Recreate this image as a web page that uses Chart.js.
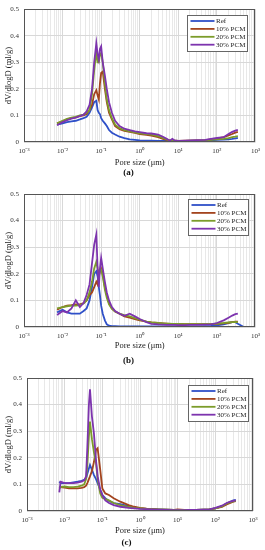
<!DOCTYPE html>
<html>
<head>
<meta charset="utf-8">
<script src="https://cdn.jsdelivr.net/npm/chart.js@4.4.1/dist/chart.umd.min.js"></script>
<style>
    body { margin: 0; background: #fff; }
    #wrap { position: relative; width: 265px; height: 550px; }
    canvas { position: absolute; left: 0; }
</style>
</head>
<body>
<div id="wrap">
    <canvas id="chart_a" width="265" height="180" style="top:0px"></canvas>
    <canvas id="chart_b" width="265" height="185" style="top:182px"></canvas>
    <canvas id="chart_c" width="265" height="183" style="top:367px"></canvas>
</div>
<script>
// legend names and colours
var seriesNames = ['Ref', '10% PCM', '20% PCM', '30% PCM'];
var seriesColors = ['#2f50c8', '#a3441e', '#7c9c2a', '#7d34ae'];

// x axis decades and y ticks
var xDecades = [0.001, 0.01, 0.1, 1, 10, 100, 1000];
var yTicks = [0, 0.1, 0.2, 0.3, 0.4, 0.5];

// (a)
var poreA = [0.0072, 0.01, 0.013, 0.017, 0.022, 0.028, 0.035, 0.042, 0.05, 0.058,
    0.066, 0.075, 0.081, 0.087, 0.093, 0.1, 0.11, 0.125, 0.14, 0.16,
    0.19, 0.23, 0.3, 0.4, 0.55, 0.75, 1, 1.5, 2, 3,
    4, 5, 6, 7, 8, 10, 15, 20, 30, 50,
    70, 100, 150, 200, 250, 300, 350];
var refA = [0.065, 0.07, 0.075, 0.078, 0.08, 0.085, 0.09, 0.095, 0.11, 0.13,
    0.15, 0.155, 0.12, 0.11, 0.105, 0.09, 0.08, 0.07, 0.06, 0.045,
    0.035, 0.028, 0.02, 0.015, 0.01, 0.008, 0.006, 0.005, 0.005, 0.004,
    0.004, 0.004, 0.004, 0.004, 0.004, 0.004, 0.004, 0.004, 0.004, 0.005,
    0.006, 0.008, 0.009, 0.01, 0.012, 0.014, 0.015];
var pcm10A = [0.07, 0.078, 0.085, 0.09, 0.093, 0.097, 0.1, 0.105, 0.12, 0.14,
    0.18, 0.195, 0.175, 0.16, 0.22, 0.26, 0.265, 0.2, 0.15, 0.11,
    0.085, 0.06, 0.048, 0.042, 0.038, 0.034, 0.03, 0.027, 0.024, 0.018,
    0.012, 0.008, 0.005, 0.005, 0.005, 0.004, 0.005, 0.005, 0.006, 0.007,
    0.01, 0.013, 0.018, 0.025, 0.03, 0.035, 0.038];
var pcm20A = [0.07, 0.08, 0.087, 0.092, 0.095, 0.1, 0.103, 0.11, 0.12, 0.18,
    0.27, 0.34, 0.3, 0.3, 0.33, 0.335, 0.3, 0.22, 0.16, 0.12,
    0.09, 0.065, 0.052, 0.045, 0.04, 0.036, 0.033, 0.03, 0.028, 0.022,
    0.015, 0.01, 0.006, 0.005, 0.005, 0.004, 0.004, 0.005, 0.005, 0.006,
    0.008, 0.01, 0.012, 0.015, 0.018, 0.02, 0.022];
var pcm30A = [0.063, 0.075, 0.082, 0.088, 0.092, 0.098, 0.103, 0.115, 0.14, 0.2,
    0.3, 0.372, 0.33, 0.31, 0.35, 0.36, 0.3, 0.25, 0.2, 0.15,
    0.11, 0.08, 0.06, 0.05, 0.045, 0.04, 0.037, 0.033, 0.032, 0.028,
    0.02, 0.012, 0.005, 0.012, 0.006, 0.004, 0.005, 0.006, 0.007, 0.008,
    0.012, 0.015, 0.018, 0.03, 0.038, 0.043, 0.046];

// (b)
var poreB = [0.0072, 0.01, 0.013, 0.017, 0.022, 0.028, 0.035, 0.042, 0.05, 0.058,
    0.066, 0.075, 0.081, 0.087, 0.093, 0.1, 0.11, 0.125, 0.14, 0.16,
    0.19, 0.23, 0.3, 0.4, 0.55, 0.75, 1, 1.5, 2, 3,
    4, 5, 6, 7, 8, 10, 15, 20, 30, 50,
    70, 100, 150, 200, 250, 300, 350, 500];
var refB = [0.055, 0.065, 0.055, 0.05, 0.05, 0.05, 0.06, 0.07, 0.1, 0.15,
    0.2, 0.21, 0.19, 0.15, 0.12, 0.08, 0.05, 0.025, 0.01, 0.005,
    0.003, 0.003, 0.002, 0.002, 0.002, 0.002, 0.002, 0.002, 0.002, 0.002,
    0.002, 0.002, 0.002, 0.002, 0.002, 0.002, 0.002, 0.002, 0.002, 0.003,
    0.004, 0.006, 0.01, 0.015, 0.018, 0.018, 0.012, 0];
var pcm10B = [0.065, 0.075, 0.08, 0.082, 0.085, 0.085, 0.09, 0.1, 0.12, 0.13,
    0.15, 0.17, 0.16, 0.19, 0.21, 0.22, 0.2, 0.15, 0.12, 0.09,
    0.07, 0.058, 0.05, 0.04, 0.035, 0.03, 0.025, 0.02, 0.017, 0.015,
    0.014, 0.013, 0.012, 0.012, 0.012, 0.012, 0.011, 0.011, 0.011, 0.011,
    0.011, 0.012, 0.014, 0.016, 0.018, 0.02, 0.02, null];
var pcm20B = [0.07, 0.075, 0.078, 0.08, 0.08, 0.082, 0.088, 0.1, 0.13, 0.17,
    0.22, 0.245, 0.22, 0.2, 0.21, 0.215, 0.19, 0.14, 0.11, 0.085,
    0.068, 0.058, 0.05, 0.045, 0.04, 0.033, 0.028, 0.02, 0.017, 0.015,
    0.014, 0.013, 0.013, 0.012, 0.012, 0.012, 0.011, 0.011, 0.011, 0.011,
    0.011, 0.013, 0.015, 0.017, 0.018, 0.019, 0.018, null];
var pcm30B = [0.045, 0.06, 0.055, 0.07, 0.1, 0.075, 0.09, 0.12, 0.16, 0.24,
    0.31, 0.348, 0.22, 0.15, 0.22, 0.26, 0.22, 0.17, 0.13, 0.1,
    0.075, 0.06, 0.05, 0.042, 0.05, 0.04, 0.03, 0.018, 0.012, 0.01,
    0.009, 0.008, 0.008, 0.008, 0.008, 0.007, 0.007, 0.008, 0.008, 0.009,
    0.01, 0.015, 0.025, 0.035, 0.043, 0.048, 0.05, null];

// (c)
var poreC = [0.0072, 0.0078, 0.01, 0.013, 0.017, 0.022, 0.028, 0.033, 0.037, 0.04,
    0.044, 0.047, 0.053, 0.06, 0.068, 0.075, 0.088, 0.1, 0.12, 0.15,
    0.2, 0.3, 0.5, 0.7, 1, 1.5, 2, 3, 5, 8,
    10, 15, 20, 30, 50, 70, 100, 150, 200, 250,
    300, 350];
var refC = [0.11, 0.105, 0.105, 0.105, 0.108, 0.11, 0.113, 0.117, 0.123, 0.14,
    0.16, 0.173, 0.155, 0.135, 0.12, 0.105, 0.08, 0.06, 0.048, 0.038,
    0.03, 0.026, 0.018, 0.014, 0.01, 0.008, 0.007, 0.006, 0.005, 0.004,
    0.004, 0.004, 0.004, 0.004, 0.005, 0.006, 0.01, 0.018, 0.028, 0.035,
    0.04, 0.042];
var pcm10C = [0.09, 0.09, 0.088, 0.085, 0.085, 0.085, 0.087, 0.09, 0.095, 0.105,
    0.12, 0.13, 0.15, 0.185, 0.23, 0.236, 0.155, 0.085, 0.066, 0.06,
    0.048, 0.035, 0.022, 0.016, 0.012, 0.009, 0.008, 0.006, 0.005, 0.004,
    0.006, 0.004, 0.004, 0.004, 0.005, 0.006, 0.01, 0.015, 0.025, 0.03,
    0.035, 0.037];
var pcm20C = [0.085, 0.09, 0.092, 0.09, 0.09, 0.092, 0.095, 0.1, 0.12, 0.17,
    0.28, 0.336, 0.27, 0.22, 0.18, 0.12, 0.066, 0.05, 0.045, 0.04,
    0.03, 0.022, 0.015, 0.012, 0.01, 0.008, 0.007, 0.006, 0.005, 0.004,
    0.004, 0.004, 0.004, 0.004, 0.005, 0.006, 0.01, 0.017, 0.028, 0.033,
    0.036, 0.038];
var pcm30C = [0.07, 0.11, 0.105, 0.105, 0.105, 0.107, 0.11, 0.115, 0.13, 0.24,
    0.4, 0.457, 0.355, 0.29, 0.19, 0.13, 0.08, 0.06, 0.04, 0.03,
    0.022, 0.016, 0.012, 0.01, 0.008, 0.007, 0.006, 0.005, 0.004, 0.003,
    0.003, 0.003, 0.004, 0.004, 0.005, 0.006, 0.012, 0.02, 0.03, 0.035,
    0.038, 0.04];

var serif = "'Liberation Serif', 'Times New Roman', serif";
var sup = { '-': '\u207B', '0': '\u2070', '1': '\u00B9', '2': '\u00B2', '3': '\u00B3' };

function isDecade(v) {
    var l = Math.log10(v);
    return Math.abs(l - Math.round(l)) < 1e-9;
}

function decadeLabel(v) {
    var e = String(Math.round(Math.log10(v)));
    return '10' + e.split('').map(c => sup[c]).join('');
}

// box around the plot area
var frame = {
    id: 'frame',
    afterDraw(chart) {
        var a = chart.chartArea, ctx = chart.ctx;
        ctx.save();
        ctx.strokeStyle = '#555';
        ctx.lineWidth = 1;
        ctx.strokeRect(Math.round(a.left) + 0.5, Math.round(a.top) + 0.5,
            Math.round(a.right - a.left) - 1, Math.round(a.bottom - a.top) - 1);
        ctx.restore();
    }
};

// legend drawn inside the plot, top right
var boxLegend = {
    id: 'boxLegend',
    afterDraw(chart, args, opts) {
        var a = chart.chartArea, ctx = chart.ctx;
        var w = 60, h = 36;
        var x = Math.round(a.right - opts.right - w), y = Math.round(a.top + opts.top);
        ctx.save();
        ctx.fillStyle = '#fff';
        ctx.fillRect(x, y, w, h);
        ctx.strokeStyle = '#666';
        ctx.lineWidth = 1;
        ctx.strokeRect(x + 0.5, y + 0.5, w, h);
        ctx.font = '7px ' + serif;
        ctx.textBaseline = 'middle';
        seriesNames.forEach((name, i) => {
            var cy = y + 6 + i * 7.9;
            ctx.strokeStyle = seriesColors[i];
            ctx.lineWidth = 1.8;
            ctx.beginPath();
            ctx.moveTo(x + 3.5, cy);
            ctx.lineTo(x + 27.5, cy);
            ctx.stroke();
            ctx.fillStyle = '#222';
            ctx.fillText(name, x + 29, cy);
        });
        ctx.restore();
    }
};

function makeChart(id, pores, values, p) {
    var datasets = values.map((vals, i) => ({
        label: seriesNames[i],
        data: pores.map((x, j) => ({ x: x, y: vals[j] })),
        borderColor: seriesColors[i],
        backgroundColor: seriesColors[i],
        borderWidth: 1.8,
        pointRadius: 0,
        tension: 0,
        order: 3 - i
    }));

    var ctx = document.getElementById(id).getContext('2d');
    return new Chart(ctx, {
        type: 'line',
        data: { datasets: datasets },
        plugins: [frame, boxLegend],
        options: {
            responsive: false,
            animation: false,
            events: [],
            layout: { padding: { top: p.padTop, right: p.padRight, bottom: p.padBottom, left: 0 } },
            plugins: {
                legend: { display: false },
                tooltip: { enabled: false },
                title: {
                    display: true,
                    position: 'bottom',
                    text: p.label,
                    color: '#111',
                    font: { family: serif, size: 9, weight: 'bold' },
                    padding: { top: p.labelPad, bottom: 0 }
                },
                boxLegend: p.legend
            },
            scales: {
                x: {
                    type: 'logarithmic',
                    min: 0.001,
                    max: 1000,
                    afterBuildTicks(scale) {
                        var ticks = [];
                        xDecades.forEach(d => {
                            for (var m = 1; m <= 9; m++) {
                                if (d * m <= 1000.0001) ticks.push({ value: d * m, major: m === 1 });
                            }
                        });
                        scale.ticks = ticks;
                    },
                    afterFit(scale) { scale.height = p.xAxisH; },
                    border: { display: false },
                    grid: {
                        drawTicks: false,
                        lineWidth: 1,
                        color: c => (c.tick && isDecade(c.tick.value)) ? '#d8d8d8' : '#e8e8e8'
                    },
                    ticks: {
                        autoSkip: false,
                        maxRotation: 0,
                        padding: 5,
                        color: '#333',
                        font: { family: serif, size: 7 },
                        callback: v => isDecade(v) ? decadeLabel(v) : ''
                    },
                    title: {
                        display: true,
                        text: 'Pore size (\u03BCm)',
                        color: '#222',
                        font: { family: serif, size: 8.5 },
                        padding: { top: 0, bottom: 0 }
                    }
                },
                y: {
                    type: 'linear',
                    min: 0,
                    max: 0.5,
                    afterBuildTicks(scale) {
                        scale.ticks = yTicks.map(v => ({ value: v }));
                    },
                    afterFit(scale) { scale.width = p.yAxisW; },
                    border: { display: false },
                    grid: { drawTicks: false, color: '#d8d8d8', lineWidth: 1 },
                    ticks: {
                        padding: 5,
                        color: '#333',
                        font: { family: serif, size: 7 },
                        callback: v => String(+v.toFixed(1))
                    },
                    title: {
                        display: true,
                        text: 'dV/dlogD (ml/g)',
                        color: '#222',
                        font: { family: serif, size: 8.5 },
                        padding: { top: 4, bottom: 2 }
                    }
                }
            }
        }
    });
}

window.chartA = makeChart('chart_a', poreA, [refA, pcm10A, pcm20A, pcm30A], {
    label: '(a)', padTop: 7, padRight: 8, padBottom: 1.7, xAxisH: 25.5, yAxisW: 24, labelPad: 0,
    legend: { right: 8, top: 6 }
});
window.chartB = makeChart('chart_b', poreB, [refB, pcm10B, pcm20B, pcm30B], {
    label: '(b)', padTop: 12, padRight: 8, padBottom: 1.2, xAxisH: 24, yAxisW: 24, labelPad: 4,
    legend: { right: 7, top: 5 }
});
window.chartC = makeChart('chart_c', poreC, [refC, pcm10C, pcm20C, pcm30C], {
    label: '(c)', padTop: 11, padRight: 12, padBottom: 1.7, xAxisH: 25, yAxisW: 27, labelPad: 1.5,
    legend: { right: 5, top: 7 }
});
</script>
</body>
</html>
